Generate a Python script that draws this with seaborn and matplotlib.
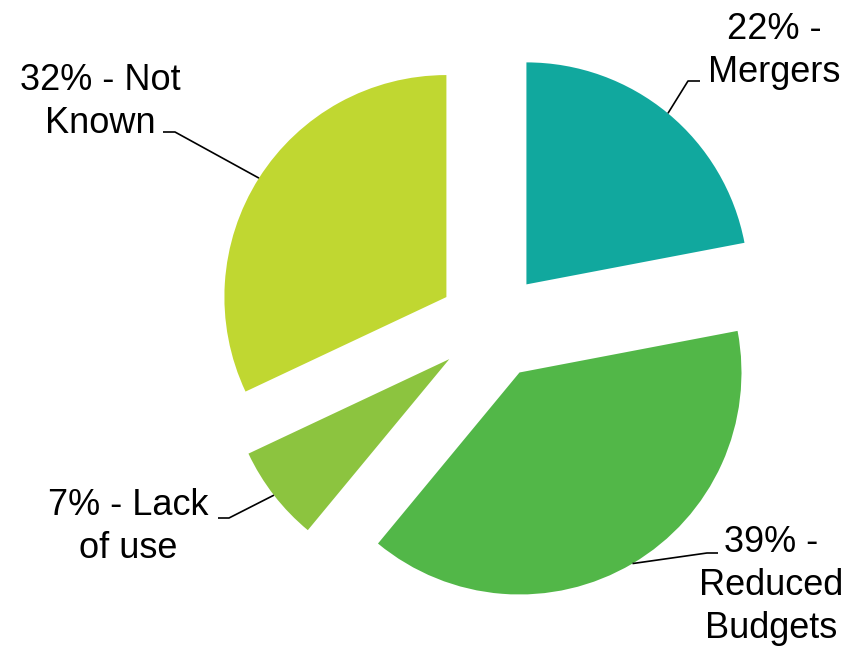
import numpy as np
import matplotlib
matplotlib.use("Agg")
import matplotlib.pyplot as plt
import seaborn as sns

# ---- data ----
categories = ["Mergers", "Reduced Budgets", "Lack of use", "Not Known"]
values = [22, 39, 7, 32]
labels = ["22% -\nMergers", "39% -\nReduced\nBudgets", "7% - Lack\nof use", "32% - Not\nKnown"]
colors = ["#11A89E", "#52B748", "#8CC43F", "#C0D731"]

# ---- layout (pixel coords measured from top-left, converted below) ----
W, H = 861, 647
center_px = (492, 326)
radius = 222
explode_px = 54
label_pos = [(774, 82), (771, 638), (128, 558), (100, 133)]     # last-line baseline
leader_elbow = [(688, 81), (707, 553), (229, 518), (175, 132)]
leader_end = [(700, 81), (718, 553), (218, 518), (163, 132)]


def up(p):
    return p[0], H - p[1]


sns.set_theme(style="white")
plt.rcParams["font.family"] = ["Liberation Sans", "DejaVu Sans"]

fig = plt.figure(figsize=(W / 100, H / 100), dpi=100)
ax = fig.add_axes([0, 0, 1, 1])

wedges, _ = ax.pie(values, colors=colors, startangle=90, counterclock=False,
                   radius=radius, center=up(center_px),
                   explode=[explode_px] * len(values),
                   wedgeprops=dict(linewidth=0), frame=True)
ax.set_xlim(0, W)
ax.set_ylim(0, H)
ax.set_aspect("equal")
ax.axis("off")

for i, w in enumerate(wedges):
    mid = np.deg2rad((w.theta1 + w.theta2) / 2)
    cx, cy = w.center
    px = cx + radius * np.cos(mid)
    py = cy + radius * np.sin(mid)
    ex, ey = up(leader_elbow[i])
    tx, ty = up(leader_end[i])
    ax.plot([px, ex, tx], [py, ey, ty], color="black", lw=1.2, solid_capstyle="butt")
    lx, ly = up(label_pos[i])
    ax.text(lx, ly, labels[i], ha="center", va="baseline", fontsize=26,
            color="black", linespacing=1.3, multialignment="center")

fig.savefig("out.png", dpi=100, facecolor="white")
